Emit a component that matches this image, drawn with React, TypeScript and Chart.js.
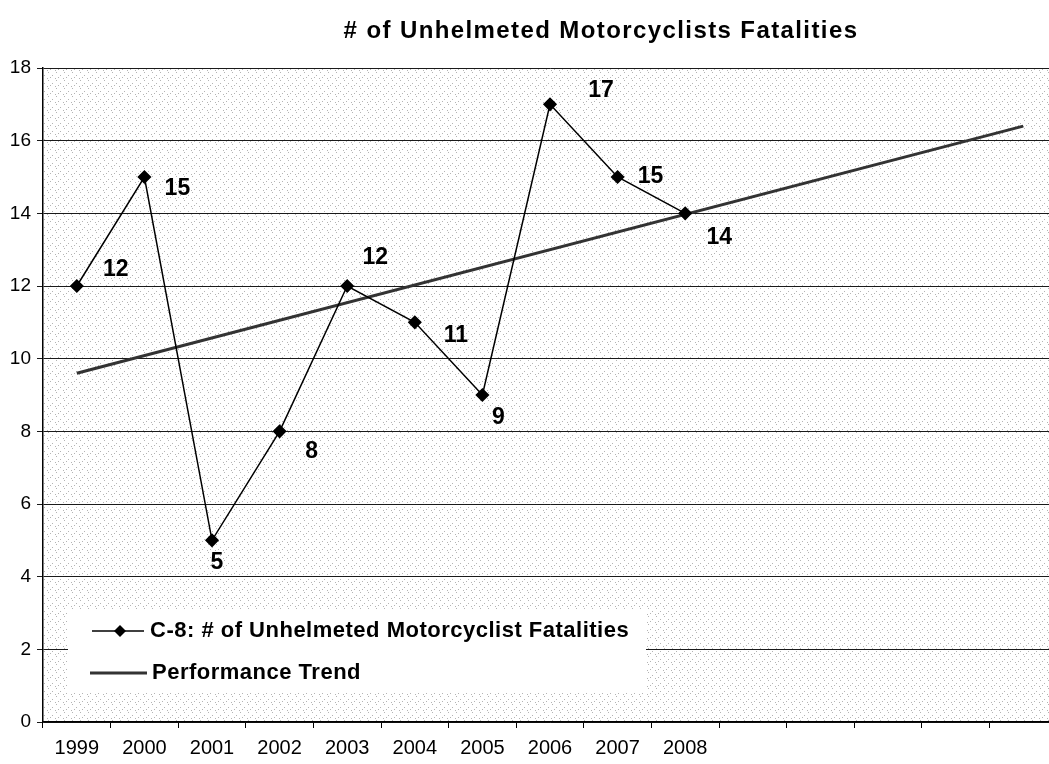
import React, { useEffect, useRef } from "react";
import { Chart, registerables } from "chart.js";

Chart.register(...registerables);

const categories = ["1999", "2000", "2001", "2002", "2003", "2004", "2005", "2006", "2007", "2008", "", "", "", "", ""];
const fatalities = [12, 15, 5, 8, 12, 11, 9, 17, 15, 14, null, null, null, null, null];
const trend = [9.6, null, null, null, null, null, null, null, null, null, null, null, null, null, 16.4];
const yTicks = [0, 2, 4, 6, 8, 10, 12, 14, 16, 18];

const titleText = "# of Unhelmeted Motorcyclists Fatalities";
const seriesName = "C-8: # of Unhelmeted Motorcyclist Fatalities";
const trendName = "Performance Trend";

// per-point label offsets (style only)
const labelDx = [39, 33, 5, 32, 28, 41, 16, 51, 33, 34];
const labelDy = [-16, 12, 22, 20, -28, 13, 23, -14, 0, 24];

const FONT = "'Liberation Sans', Arial, sans-serif";

function makePattern(): CanvasPattern | string {
  const t = document.createElement("canvas");
  t.width = 8;
  t.height = 8;
  const c = t.getContext("2d");
  if (!c) return "#f6f6f6";
  c.fillStyle = "#ffffff";
  c.fillRect(0, 0, 8, 8);
  c.fillStyle = "#b4b4b4";
  const pts = [[0, 0], [4, 3], [7, 6], [2, 5]];
  for (const [x, y] of pts) c.fillRect(x, y, 1, 1);
  const p = c.createPattern(t, "repeat");
  return p || "#f6f6f6";
}

function spaced(ctx: CanvasRenderingContext2D, text: string, x: number, y: number, spacing: number, align: "left" | "center") {
  const c: any = ctx;
  if ("letterSpacing" in c) {
    c.letterSpacing = spacing + "px";
    if (align === "center") {
      const w = ctx.measureText(text).width;
      ctx.textAlign = "left";
      ctx.fillText(text, x - w / 2, y);
    } else {
      ctx.textAlign = "left";
      ctx.fillText(text, x, y);
    }
    c.letterSpacing = "0px";
  } else {
    ctx.textAlign = align;
    ctx.fillText(text, x, y);
  }
}

export default function App() {
  const ref = useRef<HTMLCanvasElement | null>(null);

  useEffect(() => {
    const canvas = ref.current;
    if (!canvas) return;
    const pattern = makePattern();

    const bgPlugin = {
      id: "bgPlugin",
      beforeDraw(chart: any) {
        const { ctx, chartArea } = chart;
        ctx.save();
        ctx.fillStyle = "#ffffff";
        ctx.fillRect(0, 0, chart.width, chart.height);
        ctx.fillStyle = pattern;
        ctx.fillRect(chartArea.left, chartArea.top, chartArea.right - chartArea.left, chartArea.bottom - chartArea.top);
        ctx.restore();
      },
    };

    const overlayPlugin = {
      id: "overlayPlugin",
      afterDraw(chart: any) {
        const { ctx } = chart;
        ctx.save();
        ctx.textBaseline = "middle";
        // title
        ctx.fillStyle = "#000";
        ctx.font = `bold 24px ${FONT}`;
        spaced(ctx, titleText, 601, 31, 1.4, "center");

        // data labels
        const meta = chart.getDatasetMeta(0);
        ctx.font = `bold 23px ${FONT}`;
        ctx.textAlign = "center";
        meta.data.forEach((el: any, i: number) => {
          const v = fatalities[i];
          if (v === null || v === undefined) return;
          ctx.fillText(String(v), el.x + labelDx[i], el.y + labelDy[i]);
        });

        // legend
        ctx.fillStyle = "#ffffff";
        ctx.fillRect(68, 610, 578, 82);
        ctx.strokeStyle = "#000";
        ctx.lineWidth = 1.5;
        ctx.beginPath();
        ctx.moveTo(92, 631);
        ctx.lineTo(144, 631);
        ctx.stroke();
        ctx.fillStyle = "#000";
        ctx.beginPath();
        ctx.moveTo(120, 625);
        ctx.lineTo(126, 631);
        ctx.lineTo(120, 637);
        ctx.lineTo(114, 631);
        ctx.closePath();
        ctx.fill();
        ctx.strokeStyle = "#333";
        ctx.lineWidth = 3;
        ctx.beginPath();
        ctx.moveTo(90, 673);
        ctx.lineTo(147, 673);
        ctx.stroke();
        ctx.fillStyle = "#000";
        ctx.font = `bold 22px ${FONT}`;
        spaced(ctx, seriesName, 150, 631, 0.5, "left");
        spaced(ctx, trendName, 152, 673, 0.5, "left");
        ctx.restore();
      },
    };

    const chart = new Chart(canvas, {
      type: "line",
      data: {
        labels: categories,
        datasets: [
          {
            label: seriesName,
            data: fatalities,
            borderColor: "#000",
            backgroundColor: "#000",
            borderWidth: 1.5,
            pointStyle: "rectRot",
            pointRadius: 6,
            pointBackgroundColor: "#000",
            pointBorderColor: "#000",
            tension: 0,
            spanGaps: false,
            order: 1,
          },
          {
            label: trendName,
            data: trend,
            borderColor: "#333",
            borderWidth: 3,
            pointRadius: 0,
            spanGaps: true,
            tension: 0,
            order: 2,
          },
        ],
      },
      options: {
        animation: false,
        responsive: false,
        devicePixelRatio: 1,
        layout: { padding: { top: 68, right: 9, left: 0, bottom: 0 } },
        plugins: {
          legend: { display: false },
          title: { display: false },
          tooltip: { enabled: false },
        },
        scales: {
          x: {
            type: "category",
            offset: true,
            grid: {
              offset: true,
              drawOnChartArea: false,
              drawTicks: true,
              tickLength: 6,
              color: "#000",
            },
            border: { display: true, color: "#000", width: 1.5 },
            ticks: {
              color: "#000",
              font: { family: FONT, size: 20 },
              padding: 8,
              maxRotation: 0,
              autoSkip: false,
            },
            afterFit(scale: any) {
              scale.height = 42;
            },
          },
          y: {
            min: 0,
            max: 18,
            afterBuildTicks(scale: any) {
              scale.ticks = yTicks.map((v) => ({ value: v }));
            },
            grid: {
              color: "#1a1a1a",
              lineWidth: 1,
              drawTicks: true,
              tickLength: 6,
            },
            border: { display: true, color: "#000", width: 1.5 },
            ticks: {
              color: "#000",
              font: { family: FONT, size: 19 },
              padding: 6,
            },
            afterFit(scale: any) {
              scale.width = 43;
            },
          },
        },
      },
      plugins: [bgPlugin, overlayPlugin],
    });

    return () => chart.destroy();
  }, []);

  return (
    <div style={{ position: "fixed", left: 0, top: 0, width: 1049, height: 764, overflow: "hidden", background: "#fff" }}>
      <canvas ref={ref} width={1066} height={764} style={{ width: 1066, height: 764, display: "block" }} />
    </div>
  );
}
